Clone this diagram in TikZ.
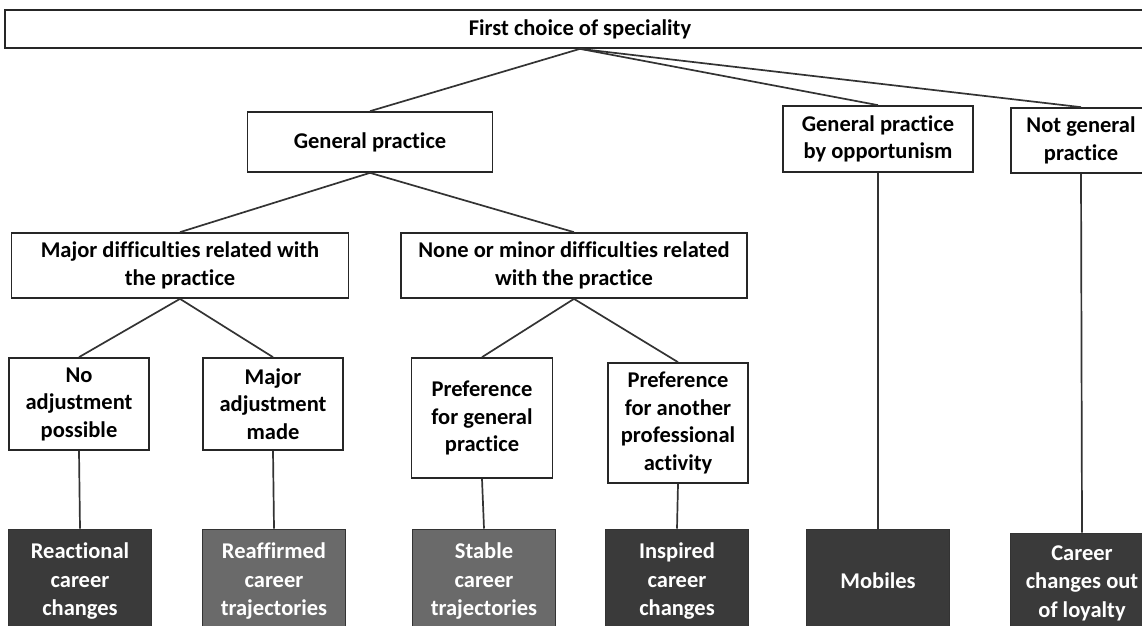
\documentclass[tikz,border=0pt]{standalone}
\usepackage{fontspec}
\setmainfont{Carlito}[Ligatures=NoCommon]
\usetikzlibrary{positioning}
\definecolor{darkfill}{HTML}{3A3A3A}
\definecolor{midfill}{HTML}{6A6A6A}
\tikzset{
  box/.style={draw=black!85, line width=1.7pt, fill=white, align=center, inner sep=0pt,
    font=\bfseries\fontsize{22.5}{27.5}\selectfont},
  outcome/.style={draw=black!80, line width=1pt, fill=#1, text=white, align=center, inner sep=0pt,
    minimum width=143pt, minimum height=104pt, font=\bfseries\fontsize{22.5}{28.5}\selectfont},
  link/.style={draw=black!80, line width=1.7pt},
}
\begin{document}
\begin{tikzpicture}[x=1pt, y=-1pt]
    \useasboundingbox (0,0) rectangle (1142,625);
    % Top level
    \node[box, minimum width=1150pt, minimum height=38pt] (top) at (580,29) {First choice of speciality};
    % Second level
    \node[box, minimum width=245pt, minimum height=60pt] (gp) at (370,142) {General practice};
    \node[box, minimum width=190pt, minimum height=66pt] (opp) at (878,139) {General practice\\by opportunism};
    \node[box, minimum width=140pt, minimum height=65pt] (notgp) at (1081,140.5) {Not general\\practice};
    % Difficulties
    \node[box, minimum width=337pt, minimum height=65pt] (major) at (180,265.5) {Major difficulties related with\\the practice};
    \node[box, minimum width=346pt, minimum height=65pt] (minor) at (574,265.5) {None or minor difficulties related\\with the practice};
    % Adjustments and preferences
    \node[box, minimum width=140pt, minimum height=92pt] (noadj) at (79,404) {No\\adjustment\\possible};
    \node[box, minimum width=140pt, minimum height=92pt] (majadj) at (273,404) {Major\\adjustment\\made};
    \node[box, minimum width=141pt, minimum height=120pt] (prefgp) at (482,418) {Preference\\for general\\practice};
    \node[box, minimum width=140pt, minimum height=120pt] (prefother) at (678,423) {Preference\\for another\\professional\\activity};
    % Outcomes
    \node[outcome=darkfill] (reactional) at (80,581) {Reactional\\career\\changes};
    \node[outcome=midfill] (reaffirmed) at (274,581) {Reaffirmed\\career\\trajectories};
    \node[outcome=midfill] (stable) at (484,581) {Stable\\career\\trajectories};
    \node[outcome=darkfill] (inspired) at (677,581) {Inspired\\career\\changes};
    \node[outcome=darkfill] (mobiles) at (878,581) {Mobiles};
    \node[outcome=darkfill, minimum height=100pt] (loyalty) at (1082,583) {Career\\changes out\\of loyalty};
    % Links
    \foreach \b in {gp, opp, notgp} \draw[link] (top.south) -- (\b.north);
    \foreach \b in {major, minor} \draw[link] (gp.south) -- (\b.north);
    \foreach \b in {noadj, majadj} \draw[link] (major.south) -- (\b.north);
    \foreach \b in {prefgp, prefother} \draw[link] (minor.south) -- (\b.north);
    \foreach \a/\b in {noadj/reactional, majadj/reaffirmed, prefgp/stable, prefother/inspired, opp/mobiles, notgp/loyalty}
        \draw[link] (\a.south) -- (\b.north);
\end{tikzpicture}
\end{document}
